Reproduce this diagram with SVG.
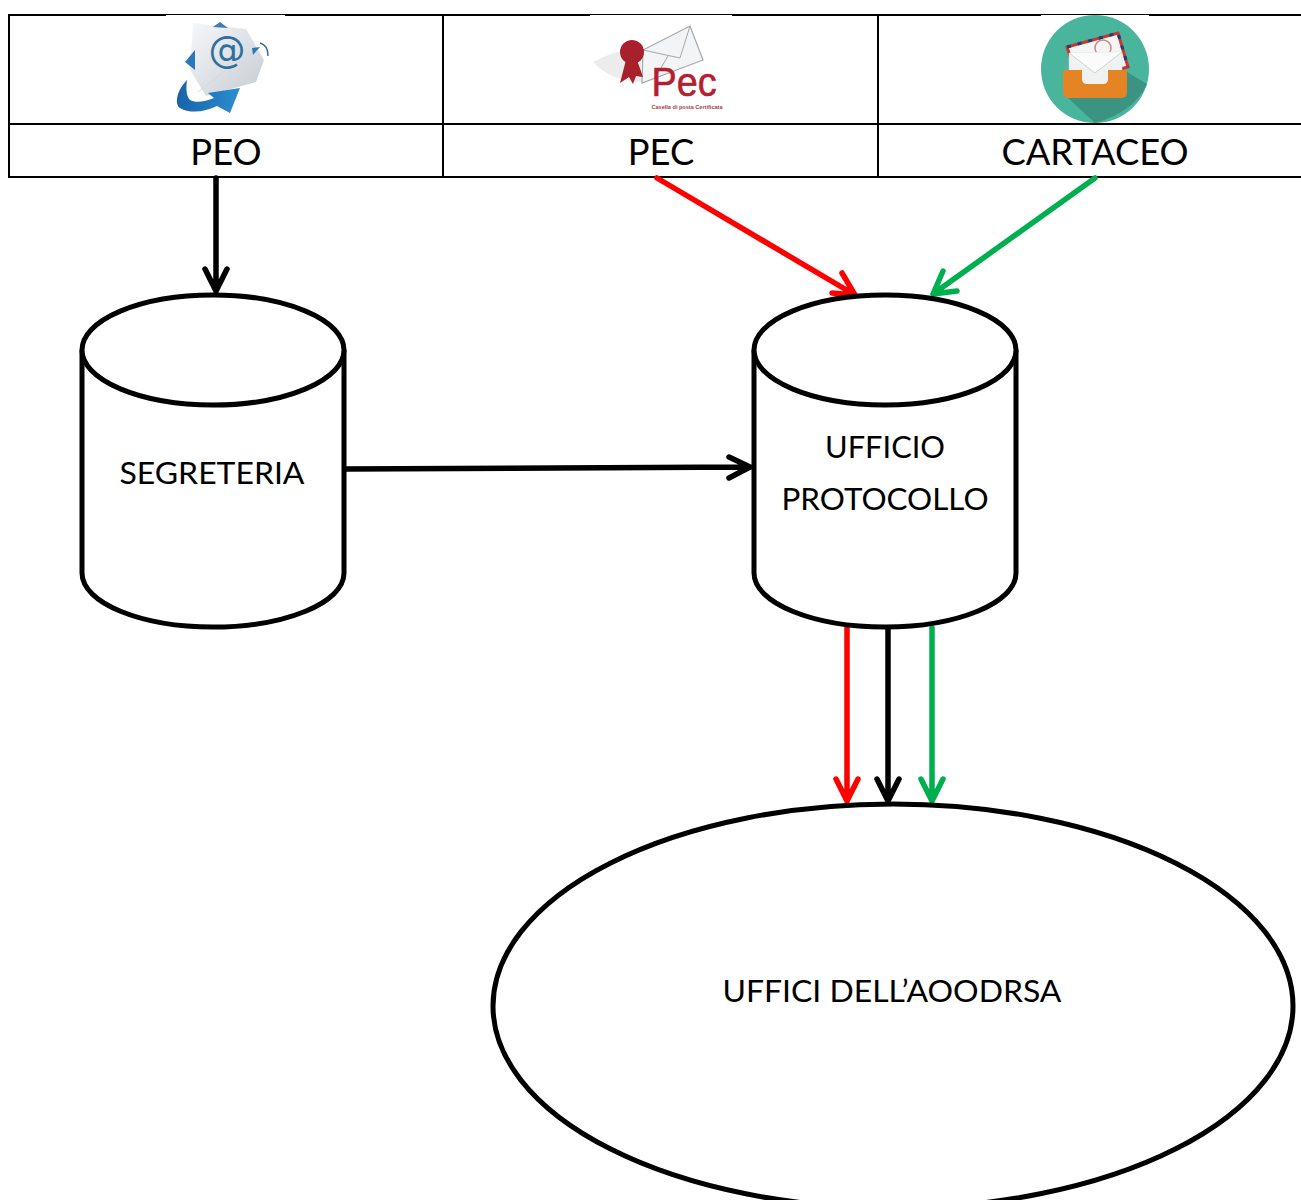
<svg xmlns="http://www.w3.org/2000/svg" width="1301" height="1200" viewBox="0 0 1301 1200">
<style>
.t{font-family:"Lato","Open Sans","Liberation Sans",sans-serif;fill:#000;text-anchor:middle}
.h{font-size:36.3px}.n{font-size:31.8px}
.g{stroke:#000;stroke-width:2;fill:none}
.s{fill:#fff;stroke:#000;stroke-width:5}
.c{fill:none;stroke-width:5.5;stroke-linecap:round;stroke-linejoin:round}
</style>
<defs>
<linearGradient id="env" x1="0" y1="0" x2="1" y2="1"><stop offset="0" stop-color="#f6f7f9"/><stop offset="1" stop-color="#c6ccd2"/></linearGradient>
<linearGradient id="blu" x1="0" y1="0" x2="1" y2="0"><stop offset="0" stop-color="#1b62a8"/><stop offset="1" stop-color="#2a8ed0"/></linearGradient>
</defs>
<rect width="1301" height="1200" fill="#fff"/>
<g id="table">
<path class="g" d="M8 15H1301M8 124H1301M8 177H1301M9 14V178M443 14V178M878 14V178"/>
<text class="t h" x="226" y="165">PEO</text>
<text class="t h" x="661" y="165">PEC</text>
<text class="t h" x="1095" y="165">CARTACEO</text>
</g>
<g id="icon-peo">
<rect x="166" y="15" width="119" height="1" fill="#fff"/>
<path d="M193 23 L246 29 L264 60 L256 82 L206 96 L190 70Z" fill="url(#env)"/>
<path d="M198 92 L226 70 L252 82" fill="none" stroke="#d5d9dd" stroke-width="1"/>
<path d="M185 62 L195 50 L195 70Z" fill="#2a78b8"/>
<path d="M213 27 L220 22 L228 28Z" fill="#3b7fb5"/>
<path d="M252 48 L260 47 L253 55Z" fill="#2a78b8"/>
<path d="M260 43 Q268 45 268 56" fill="none" stroke="#3d6f96" stroke-width="1.500"/>
<text x="227" y="62" font-family="'DejaVu Sans',sans-serif" font-size="37" fill="#2f6f9f" text-anchor="middle">@</text>
<path d="M187 80 C177 90 174 104 180 108 C190 114 205 112 217 106 L230 113 L240 88 L208 93 L214 98 C205 102 195 103 190 100 C186 96 186 88 187 80Z" fill="url(#blu)"/>
</g>
<g id="icon-pec">
<rect x="590" y="15" width="142" height="1" fill="#fff"/>
<path d="M593 62 Q615 50 640 48 L642 82 Q612 82 593 62Z" fill="#ececec"/>
<path d="M643 50 L690 26 L703 60 L642 83Z" fill="#f3f4f5" stroke="#a3a9ac" stroke-width="1.2"/>
<path d="M643 50 L680 58 L690 26M655 78 L668 56" fill="none" stroke="#a3a9ac" stroke-width="1"/>
<circle cx="632" cy="52" r="12" fill="#a8202c"/>
<path d="M626 60 L620 83 L629 77 L633 84 L636 76 L643 77 L637 60Z" fill="#a8202c"/>
<text x="684" y="95.500" font-family="'Liberation Sans',sans-serif" font-size="40" fill="#b5202e" stroke="#b5202e" stroke-width=".6" text-anchor="middle" textLength="65" lengthAdjust="spacingAndGlyphs">Pec</text>
<text x="687" y="109" font-family="'Liberation Sans',sans-serif" font-size="6" font-weight="bold" fill="#a8404a" text-anchor="middle" textLength="71" lengthAdjust="spacingAndGlyphs">Casella di posta Certificata</text>
</g>
<g id="icon-cartaceo">
<rect x="1041" y="15" width="108" height="1" fill="#fff"/>
<circle cx="1095" cy="69" r="54" fill="#4ab59d"/>
<path d="M1066 96 L1127 72 L1147 84 Q1134 112 1095 123 Z" fill="#3b9382"/>
<path d="M1067 47 L1118 33 L1128 67 L1078 80Z" fill="#f5f5f5" stroke="#c8372d" stroke-width="3"/>
<path d="M1067 47 L1118 33 L1128 67" stroke="#1f3f77" stroke-width="3" stroke-dasharray="4 7" fill="none"/>
<circle cx="1103" cy="48" r="8" fill="none" stroke="#c08b88" stroke-width="1.500"/>
<path d="M1069 53 L1122 52 L1122 72 L1108 90 L1082 90 L1069 78Z" fill="#f0f2f2" stroke="#d0d4d6" stroke-width=".5"/>
<path d="M1069 53 L1095 73 L1122 52" fill="#fbfbfb" stroke="#cfd3d5" stroke-width="1"/>
<path d="M1066 70 H1082 V79 Q1082 84 1087 84 H1103 Q1108 84 1108 79 V70 H1127 V92 Q1127 98 1121 98 H1069 Q1063 98 1063 92 V70Z" fill="#e58425"/>
</g>
<g id="connectors" class="conn">
<g class="c" stroke="#000">
<path d="M216 178V291M205 269L216 291L227 269"/>
<path d="M346 469L750 467M729 457L750 467L729 478"/>
<path d="M888 628V801M877 779L888 801L899 779"/>
</g>
<g class="c" stroke="#f00">
<path d="M657 178L855 295M842 273L855 295L832 293"/>
<path d="M847 628V801M836 779L847 801L858 779"/>
</g>
<g class="c" stroke="#00b050">
<path d="M1095 178L933 294M943 271L933 294L957 291"/>
<path d="M932 628V801M921 779L932 801L943 779"/>
</g>
</g>
<g id="segreteria">
<path class="s" d="M82 350V573C82 603 141 627 213 627C285 627 344 603 344 573V350"/>
<ellipse class="s" cx="213" cy="350" rx="131" ry="55"/>
<text class="t n" x="212" y="484" textLength="185" lengthAdjust="spacingAndGlyphs">SEGRETERIA</text>
</g>
<g id="ufficio-protocollo">
<path class="s" d="M754 350V573C754 603 813 627 885 627C957 627 1016 603 1016 573V350"/>
<ellipse class="s" cx="885" cy="350" rx="131" ry="55"/>
<text class="t n" x="885" y="458" textLength="120" lengthAdjust="spacingAndGlyphs">UFFICIO</text>
<text class="t n" x="885" y="510" textLength="207" lengthAdjust="spacingAndGlyphs">PROTOCOLLO</text>
</g>
<g id="uffici-aoodrsa">
<ellipse class="s" cx="893" cy="1006" rx="400" ry="202"/>
<text class="t n" x="892" y="1002" textLength="339" lengthAdjust="spacingAndGlyphs">UFFICI DELL’AOODRSA</text>
</g>
</svg>
